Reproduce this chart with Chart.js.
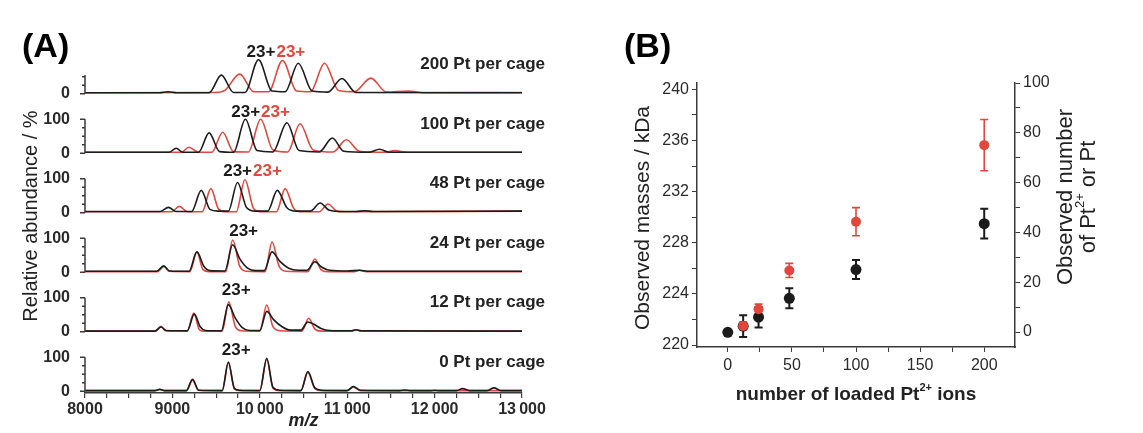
<!DOCTYPE html>
<html>
<head>
<meta charset="utf-8">
<script src="https://cdn.jsdelivr.net/npm/chart.js@4.4.0/dist/chart.umd.min.js"></script>
<style>
	body { margin: 0; background: #fff; }
	#wrap { position: relative; width: 1143px; height: 433px; }
	#spectra { position: absolute; left: 0; top: 0; }
	#masses { position: absolute; left: 560px; top: 0; }
</style>
</head>
<body>
<div id="wrap">
	<canvas id="spectra" width="560" height="433"></canvas>
	<canvas id="masses" width="583" height="433"></canvas>
</div>
<script>
// ---- panel A : spectra, [m/z, relative abundance] ----
const pt0Black = [[8000,2],[8800,2],[8855,6],[8910,2],[9160,2],[9230,35],[9300,3],[9570,2],[9640,86],[9710,8],[9770,3],[10000,2],[10080,97],[10150,12],[10230,3],[10470,2],[10550,58],[10630,10],[10710,3],[11000,2],[11070,14],[11150,3],[11600,2],[11660,4],[11720,2],[11950,2],[12000,3],[12060,2],[12250,2],[12320,8],[12400,2],[12600,2],[12680,10],[12760,2],[13000,2]];
const pt0Red = [[8000,2],[8800,2],[8855,5],[8910,2],[9160,2],[9230,33],[9300,3],[9570,2],[9640,84],[9710,7],[9770,2],[10000,2],[10080,95],[10150,10],[10230,2],[10470,2],[10550,56],[10630,8],[10710,2],[11000,2],[11070,13],[11150,2],[13000,2]];
const pt12Black = [[8000,2],[8800,2],[8870,14],[8930,4],[9170,3],[9250,52],[9320,14],[9380,4],[9560,3],[9640,80],[9720,40],[9800,12],[9880,4],[10000,4],[10080,60],[10160,35],[10260,14],[10350,5],[10470,5],[10550,29],[10620,22],[10700,10],[10800,4],[11050,3],[11100,6],[11160,3],[13000,2]];
const pt12Red = [[8000,2],[8800,2],[8870,16],[8920,3],[9170,2],[9245,55],[9310,6],[9370,2],[9570,2],[9645,88],[9720,15],[9790,3],[10000,2],[10080,79],[10150,15],[10230,3],[10480,2],[10560,40],[10630,8],[10700,2],[11050,2],[11100,6],[11160,2],[13000,2]];
const pt24Black = [[8000,3],[8820,3],[8900,19],[8970,4],[9190,3],[9280,60],[9360,18],[9430,5],[9600,4],[9690,81],[9770,40],[9860,12],[9950,5],[10050,5],[10140,60],[10230,32],[10330,12],[10440,6],[10540,6],[10630,31],[10710,15],[10800,6],[11000,4],[11140,6],[11250,3],[13000,3]];
const pt24Red = [[8000,2],[8830,2],[8905,17],[8960,3],[9200,2],[9280,60],[9350,8],[9420,2],[9610,2],[9690,95],[9770,18],[9850,3],[10060,2],[10140,89],[10220,18],[10300,3],[10550,2],[10630,39],[10700,8],[10780,2],[11080,2],[11140,6],[11220,2],[13000,2]];
const pt48Black = [[8000,4],[8860,4],[8955,16],[9040,4],[9220,4],[9330,66],[9430,10],[9520,5],[9640,5],[9745,89],[9850,15],[9950,5],[10090,5],[10200,66],[10310,15],[10420,5],[10580,5],[10690,29],[10790,8],[10900,4],[11100,4],[11200,6],[11300,4],[13000,5]];
const pt48Red = [[8000,3],[8990,3],[9080,19],[9170,3],[9340,3],[9440,71],[9530,10],[9610,3],[9730,3],[9830,97],[9930,12],[10020,3],[10190,3],[10290,71],[10390,12],[10480,3],[10680,3],[10780,26],[10880,5],[10980,3],[13000,5]];
const pt100Black = [[8000,3],[8960,3],[9043,15],[9120,3],[9300,3],[9420,60],[9540,5],[9700,3],[9835,100],[9970,8],[10150,4],[10310,90],[10450,8],[10680,4],[10830,45],[10960,6],[11250,3],[11370,12],[11480,3],[13000,3]];
const pt100Red = [[8000,3],[9100,3],[9190,18],[9290,4],[9450,3],[9575,62],[9700,5],[9870,4],[10010,100],[10150,10],[10320,4],[10460,87],[10610,10],[10840,4],[10990,40],[11140,6],[11420,3],[11550,8],[11680,3],[13000,3]];
const pt200Black = [[8000,3],[8850,3],[8950,6],[9050,3],[9420,3],[9560,55],[9700,4],[9830,4],[9985,100],[10140,8],[10290,6],[10440,90],[10600,8],[10780,5],[10940,45],[11100,4],[13000,3]];
const pt200Red = [[8000,3],[9500,4],[9600,10],[9770,58],[9930,6],[10100,6],[10260,98],[10420,8],[10580,6],[10740,90],[10900,10],[11080,6],[11270,46],[11450,5],[11700,8],[11900,3],[13000,4]];

const rowIds = ['y0', 'y12', 'y24', 'y48', 'y100', 'y200'];
const rowNames = ['0 Pt per cage', '12 Pt per cage', '24 Pt per cage', '48 Pt per cage', '100 Pt per cage', '200 Pt per cage'];
const blackRows = [pt0Black, pt12Black, pt24Black, pt48Black, pt100Black, pt200Black];
const redRows = [pt0Red, pt12Red, pt24Red, pt48Red, pt100Red, pt200Red];
const chargeMz = [9731, 9731, 9815, 9911, 10003, 10179];
const chargeBoth = [false, false, false, true, true, true];
const mzTicks = [8000,8250,8500,8750,9000,9250,9500,9750,10000,10250,10500,10750,11000,11250,11500,11750,12000,12250,12500,12750,13000];
const mzLabels = [8000, 9000, 10000, 11000, 12000, 13000];

// ---- panel B : observed masses ----
const loadedPt = [0, 12, 24, 48, 100, 200];
const massBlack = [221.0, 221.48, 222.18, 223.66, 225.91, 229.5];
const massBlackErr = [0, 0.85, 0.8, 0.78, 0.74, 1.17];
const loadedPtRed = [12, 24, 48, 100, 200];
const massRed = [221.5, 222.8, 225.84, 229.65, 235.64];
const massRedErr = [0.3, 0.4, 0.55, 1.1, 2.0];
const massTicks = [220,222,224,226,228,230,232,234,236,238,240];
const massLabels = [220, 224, 228, 232, 236, 240];
const countTicks = [0,10,20,30,40,50,60,70,80,90,100];
const countLabels = [0, 20, 40, 60, 80, 100];
const loadTicks = [0,25,50,75,100,125,150,175,200];
const loadLabels = [0, 50, 100, 150, 200];

const FONT = '"Liberation Sans", Arial, sans-serif';
const BLACK = '#1b1b1b';
const RED = '#e2473d';
const AXIS = '#3a3a3a';

function mzText(v){
	if(v >= 10000) return Math.floor(v/1000) + '\u2009' + String(v%1000).padStart(3,'0');
	return String(v);
}

// draws text with a superscript part, centred on (x,y)
function richText(ctx, parts, x, y, size, weight){
	let widths = parts.map(p => {
		ctx.font = weight + ' ' + (p.sup ? Math.round(size*0.6) : size) + 'px ' + FONT;
		return ctx.measureText(p.t).width;
	});
	let total = widths.reduce((a,b)=>a+b,0);
	let cx = x - total/2;
	ctx.textAlign = 'left';
	ctx.textBaseline = 'middle';
	parts.forEach((p,i) => {
		ctx.font = weight + ' ' + (p.sup ? Math.round(size*0.6) : size) + 'px ' + FONT;
		ctx.fillText(p.t, cx, p.sup ? y - size*0.38 : y);
		cx += widths[i];
	});
}

// ---------------- chart A ----------------
var specScales = {
	x: {
		type: 'linear', position: 'bottom', min: 8000, max: 13000,
		afterBuildTicks: function(s){ s.ticks = mzTicks.map(v => ({value: v})); },
		border: {color: AXIS, width: 1.5},
		grid: {drawOnChartArea: false, color: AXIS, tickLength: 5, lineWidth: 1.2},
		ticks: {
			autoSkip: false, maxRotation: 0, padding: 2, color: '#2a2a2a',
			font: {family: FONT, size: 16, weight: 'bold'},
			callback: function(v){ return mzLabels.indexOf(v) >= 0 ? mzText(v) : ''; }
		},
		afterFit: function(s){ s.height = 40; }
	}
};
rowIds.forEach(function(id, k){
	specScales[id] = {
		type: 'linear', position: 'left', stack: 'spec', stackWeight: 1,
		min: -5, max: 170,
		grid: {display: false}, border: {display: false},
		afterBuildTicks: function(s){ s.ticks = (k === 5 ? [0] : [0, 100]).map(v => ({value: v})); },
		ticks: {color: '#2a2a2a', padding: 7, font: {family: FONT, size: 16, weight: 'bold'}},
		afterFit: function(s){ s.width = 85; }
	};
});

var specSets = [];
rowIds.forEach(function(id, k){
	specSets.push({data: blackRows[k], yAxisID: id, borderColor: BLACK, borderWidth: 1.6, pointRadius: 0, cubicInterpolationMode: 'monotone'});
	specSets.push({data: redRows[k], yAxisID: id, borderColor: RED, borderWidth: 1.6, pointRadius: 0, cubicInterpolationMode: 'monotone'});
});

var specDecor = {
	id: 'specDecor',
	afterDraw: function(chart){
		const ctx = chart.ctx, area = chart.chartArea, xs = chart.scales.x;
		ctx.save();
		// row axes
		ctx.strokeStyle = AXIS; ctx.lineWidth = 1.5;
		rowIds.forEach(function(id, k){
			const s = chart.scales[id];
			const top = k === 5 ? 55 : 100;
			ctx.beginPath();
			ctx.moveTo(area.left, s.getPixelForValue(0));
			ctx.lineTo(area.left, s.getPixelForValue(top));
			[0, 25, 50, 75, 100].forEach(function(v){
				if(v > top) return;
				const len = (v === 0 || v === 100) ? 5 : 3;
				ctx.moveTo(area.left - len, s.getPixelForValue(v));
				ctx.lineTo(area.left, s.getPixelForValue(v));
			});
			ctx.stroke();
			// row label
			ctx.fillStyle = '#222';
			ctx.font = 'bold 17px ' + FONT;
			ctx.textAlign = 'right'; ctx.textBaseline = 'middle';
			ctx.fillText(rowNames[k], area.right + 23, s.getPixelForValue(86));
			// charge state labels
			const cy = s.getPixelForValue(122);
			const cx = xs.getPixelForValue(chargeMz[k]);
			if(chargeBoth[k]){
				ctx.fillStyle = BLACK; ctx.textAlign = 'right';
				ctx.fillText('23+', cx, cy);
				ctx.fillStyle = RED; ctx.textAlign = 'left';
				ctx.fillText('23+', cx + 1, cy);
			} else {
				ctx.fillStyle = BLACK; ctx.textAlign = 'center';
				ctx.fillText('23+', cx, cy);
			}
		});
		// x title
		ctx.fillStyle = '#222';
		ctx.font = 'italic bold 18px ' + FONT;
		ctx.textAlign = 'center'; ctx.textBaseline = 'middle';
		ctx.fillText('m/z', (area.left + area.right)/2, 421);
		// y title
		ctx.save();
		ctx.translate(31, 216);
		ctx.rotate(-Math.PI/2);
		ctx.font = '20px ' + FONT;
		ctx.fillStyle = '#222';
		ctx.fillText('Relative abundance / %', 0, 0);
		ctx.restore();
		// panel letter
		ctx.fillStyle = '#000';
		ctx.font = 'bold 34px ' + FONT;
		ctx.textAlign = 'left';
		ctx.fillText('(A)', 22, 48);
		ctx.restore();
	}
};

new Chart(document.getElementById('spectra'), {
	type: 'line',
	data: {datasets: specSets},
	options: {
		responsive: false, animation: false,
		layout: {padding: {top: 36, right: 38, left: 0, bottom: 0}},
		plugins: {legend: {display: false}, tooltip: {enabled: false}},
		elements: {line: {tension: 0.4}},
		scales: specScales
	},
	plugins: [specDecor]
});

// ---------------- chart B ----------------
function tickSetup(list){ return function(s){ s.ticks = list.map(v => ({value: v})); }; }
var tickFont = {family: FONT, size: 16};

var errorBars = {
	id: 'errorBars',
	beforeDatasetsDraw: function(chart){
		const ctx = chart.ctx, xs = chart.scales.x, ys = chart.scales.y;
		const sets = [[loadedPt, massBlack, massBlackErr, BLACK, 2], [loadedPtRed, massRed, massRedErr, RED, 1.6]];
		ctx.save();
		sets.forEach(function(set){
			ctx.strokeStyle = set[3]; ctx.lineWidth = set[4];
			set[0].forEach(function(xv, i){
				if(!set[2][i]) return;
				const px = xs.getPixelForValue(xv);
				const lo = ys.getPixelForValue(set[1][i] - set[2][i]);
				const hi = ys.getPixelForValue(set[1][i] + set[2][i]);
				ctx.beginPath();
				ctx.moveTo(px, lo); ctx.lineTo(px, hi);
				ctx.moveTo(px - 4, lo); ctx.lineTo(px + 4, lo);
				ctx.moveTo(px - 4, hi); ctx.lineTo(px + 4, hi);
				ctx.stroke();
			});
		});
		ctx.restore();
	}
};

var massDecor = {
	id: 'massDecor',
	afterDraw: function(chart){
		const ctx = chart.ctx, area = chart.chartArea;
		ctx.save();
		ctx.fillStyle = '#222';
		// x title
		richText(ctx, [{t: 'number of loaded Pt'}, {t: '2+', sup: true}, {t: ' ions'}], (area.left + area.right)/2, 395, 19, 'bold');
		// left title
		ctx.save();
		ctx.translate(83, 218);
		ctx.rotate(-Math.PI/2);
		richText(ctx, [{t: 'Observed masses / kDa'}], 0, 0, 21, 'normal');
		ctx.restore();
		// right title
		ctx.save();
		ctx.translate(506, 197);
		ctx.rotate(-Math.PI/2);
		richText(ctx, [{t: 'Observed number'}], 0, 0, 22, 'normal');
		richText(ctx, [{t: 'of Pt'}, {t: '2+', sup: true}, {t: ' or Pt'}], 0, 23, 22, 'normal');
		ctx.restore();
		// panel letter
		ctx.fillStyle = '#000';
		ctx.font = 'bold 34px ' + FONT;
		ctx.textAlign = 'left'; ctx.textBaseline = 'middle';
		ctx.fillText('(B)', 64, 48);
		ctx.restore();
	}
};

new Chart(document.getElementById('masses'), {
	type: 'scatter',
	data: {
		datasets: [
			{data: loadedPtRed.map((x, i) => ({x: x, y: massRed[i]})), backgroundColor: RED, borderColor: RED, pointRadius: 5, borderWidth: 0},
			{data: loadedPt.map((x, i) => ({x: x, y: massBlack[i]})), backgroundColor: BLACK, borderColor: BLACK, pointRadius: 5.5, borderWidth: 0}
		]
	},
	options: {
		responsive: false, animation: false,
		layout: {padding: {top: 83, left: 0, right: 0, bottom: 0}},
		plugins: {legend: {display: false}, tooltip: {enabled: false}},
		scales: {
			x: {
				type: 'linear', min: -24, max: 224,
				afterBuildTicks: tickSetup(loadTicks),
				border: {color: AXIS, width: 1.5},
				grid: {drawOnChartArea: false, color: AXIS, tickLength: 5},
				ticks: {autoSkip: false, maxRotation: 0, padding: 4, color: '#2a2a2a', font: tickFont,
					callback: v => loadLabels.indexOf(v) >= 0 ? String(v) : ''},
				afterFit: function(s){ s.height = 86; }
			},
			y: {
				type: 'linear', position: 'left', min: 219.85, max: 240.5,
				afterBuildTicks: tickSetup(massTicks),
				border: {color: AXIS, width: 1.5},
				grid: {drawOnChartArea: false, color: AXIS, tickLength: 5},
				ticks: {autoSkip: false, padding: 3, color: '#2a2a2a', font: tickFont,
					callback: v => massLabels.indexOf(v) >= 0 ? String(v) : ''},
				afterFit: function(s){ s.width = 137; }
			},
			y2: {
				type: 'linear', position: 'right', min: -6, max: 100,
				afterBuildTicks: tickSetup(countTicks),
				border: {color: AXIS, width: 1.5},
				grid: {drawOnChartArea: false, color: AXIS, tickLength: 5},
				ticks: {autoSkip: false, padding: 3, color: '#2a2a2a', font: tickFont,
					callback: v => countLabels.indexOf(v) >= 0 ? String(v) : ''},
				afterFit: function(s){ s.width = 128; }
			}
		}
	},
	plugins: [errorBars, massDecor]
});
</script>
</body>
</html>
